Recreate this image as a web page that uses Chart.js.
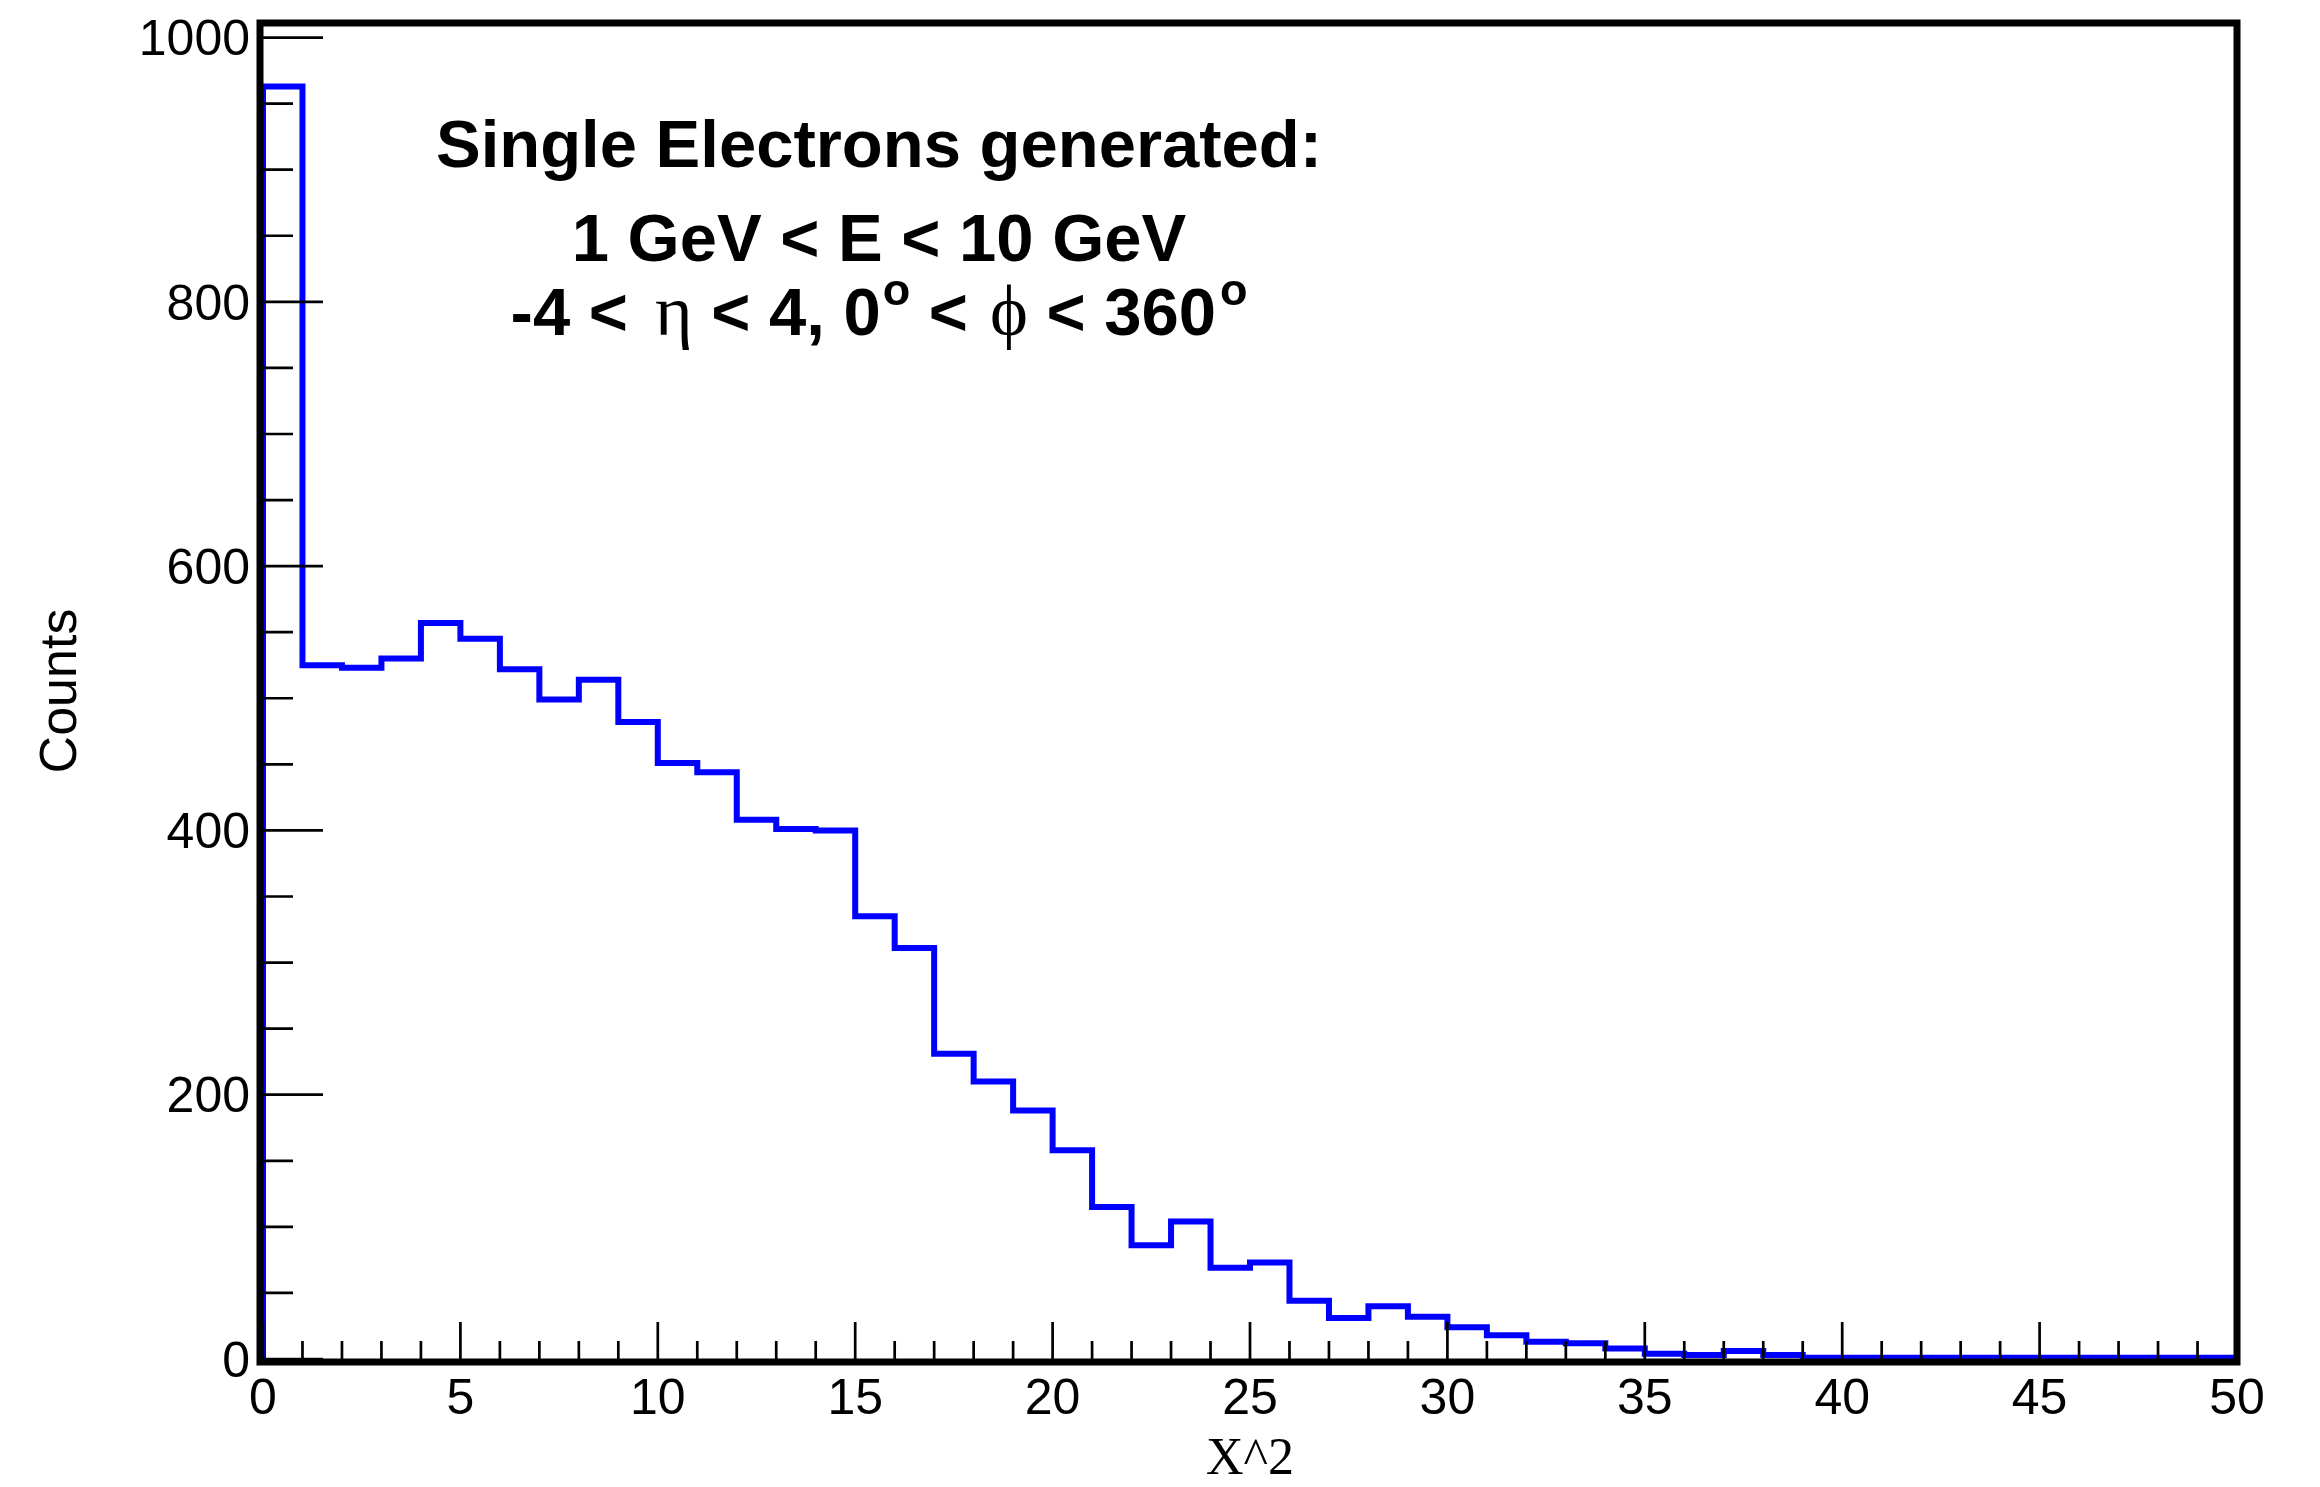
<!DOCTYPE html>
<html>
<head>
<meta charset="utf-8">
<script src="https://cdn.jsdelivr.net/npm/chart.js@4.4.1/dist/chart.umd.min.js"></script>
<style>
  html, body { margin: 0; padding: 0; background: #fff; }
  #wrap { width: 2320px; height: 1487px; }
</style>
</head>
<body>
<div id="wrap"><canvas id="chart" width="2320" height="1487"></canvas></div>
<script>
// histogram: 50 bins of width 1 from 0 to 50
const X_MIN = 0;
const X_MAX = 50;
const BIN_WIDTH = 1;
const counts = [
  963, 525, 523, 530, 557, 545, 522, 499, 514, 482,
  451, 444, 408, 401, 400, 335, 311, 231, 210, 188,
  158, 115, 86, 104, 69, 73, 44, 31, 40, 32,
  24, 18, 13, 12, 8, 4, 3, 6, 3, 1,
  1, 1, 1, 1, 1, 1, 1, 1, 1, 1
];

// axes
const Y_MAX = 1011;
const xTickValues = [0, 5, 10, 15, 20, 25, 30, 35, 40, 45, 50];
const yTickValues = [0, 200, 400, 600, 800, 1000];
const X_MINOR_STEP = 1;
const Y_MINOR_STEP = 50;
const xTitle = 'X^2';
const yTitle = 'Counts';

const titleLines = ['Single Electrons generated:', '1 GeV < E < 10 GeV'];

const SANS = '"Liberation Sans", Arial, Helvetica, sans-serif';
const SERIF = '"Liberation Serif", "DejaVu Serif", "Times New Roman", serif';

// step outline: start on the baseline, one point per bin low edge, close at the upper edge
const histPoints = [{ x: X_MIN, y: 0 }]
  .concat(counts.map((c, i) => ({ x: X_MIN + i * BIN_WIDTH, y: c })))
  .concat([{ x: X_MAX, y: counts[counts.length - 1] }]);

// frame + inward ticks, ROOT style
const rootFrame = {
  id: 'rootFrame',
  afterDatasetsDraw(chart) {
    const { ctx, chartArea: a, scales: { x, y } } = chart;
    ctx.save();
    ctx.strokeStyle = '#000';
    ctx.lineWidth = 2.7;
    ctx.beginPath();
    for (let v = 0; v <= yTickValues[yTickValues.length - 1]; v += Y_MINOR_STEP) {
      const py = y.getPixelForValue(v);
      const len = yTickValues.includes(v) ? 60 : 30;
      ctx.moveTo(a.left, py);
      ctx.lineTo(a.left + len, py);
    }
    for (let v = X_MIN; v <= X_MAX; v += X_MINOR_STEP) {
      const px = x.getPixelForValue(v);
      const len = xTickValues.includes(v) ? 37 : 18;
      ctx.moveTo(px, a.bottom);
      ctx.lineTo(px, a.bottom - len);
    }
    ctx.stroke();

    ctx.lineWidth = 7;
    ctx.strokeRect(a.left - 3, a.top, a.right - a.left + 3, a.bottom - a.top + 3);
    ctx.restore();
  }
};

// text block in the upper part of the pad
const rootLabel = {
  id: 'rootLabel',
  afterDraw(chart) {
    const { ctx } = chart;
    const cx = 879;
    ctx.save();
    ctx.fillStyle = '#000';
    ctx.textBaseline = 'alphabetic';
    ctx.textAlign = 'center';
    ctx.font = 'bold 67px ' + SANS;
    ctx.fillText(titleLines[0], cx, 167);
    ctx.fillText(titleLines[1], cx, 261);

    const B = 'bold 67px ' + SANS;
    const G = '72px ' + SERIF;
    const S = 'bold 45px ' + SANS;
    const segs = [
      { t: '-4 <', f: B },
      { gap: 27 },
      { t: 'η', f: G },
      { t: ' < 4, 0', f: B },
      { gap: 2 },
      { t: 'o', f: S, up: 30 },
      { t: ' <', f: B },
      { gap: 22 },
      { t: 'ϕ', f: G },
      { t: ' < 360', f: B },
      { gap: 4 },
      { t: 'o', f: S, up: 30 }
    ];
    ctx.textAlign = 'left';
    let total = 0;
    segs.forEach(s => {
      if (s.gap) { total += s.gap; return; }
      ctx.font = s.f;
      s.w = ctx.measureText(s.t).width;
      total += s.w;
    });
    let px = cx - total / 2;
    const base = 335;
    segs.forEach(s => {
      if (s.gap) { px += s.gap; return; }
      ctx.font = s.f;
      ctx.fillText(s.t, px, base - (s.up || 0));
      px += s.w;
    });
    ctx.restore();
  }
};

new Chart(document.getElementById('chart'), {
  type: 'line',
  data: {
    datasets: [{
      data: histPoints,
      borderColor: '#0000ff',
      borderWidth: 6,
      stepped: true,
      pointRadius: 0,
      fill: false,
      borderJoinStyle: 'miter',
      borderCapStyle: 'butt',
      clip: false
    }]
  },
  options: {
    responsive: false,
    devicePixelRatio: 1,
    animation: false,
    events: [],
    layout: { padding: { top: 23, right: 83, bottom: 0, left: 0 } },
    plugins: {
      legend: { display: false },
      tooltip: { enabled: false },
      title: { display: false }
    },
    scales: {
      x: {
        type: 'linear',
        min: X_MIN,
        max: X_MAX,
        grid: { display: false, drawTicks: false },
        border: { display: false },
        afterFit: s => { s.height = 128; s.paddingLeft = 0; s.paddingRight = 0; },
        afterBuildTicks: s => { s.ticks = xTickValues.map(v => ({ value: v })); },
        ticks: {
          color: '#000',
          font: { family: SANS, size: 50 },
          padding: 11,
          maxRotation: 0,
          autoSkip: false,
          callback: v => String(v)
        },
        title: {
          display: true,
          text: xTitle,
          color: '#000',
          font: { family: SERIF, size: 52, lineHeight: 1.04 },
          padding: { top: 0, bottom: 0 }
        }
      },
      y: {
        type: 'linear',
        min: 0,
        max: Y_MAX,
        grid: { display: false, drawTicks: false },
        border: { display: false },
        afterFit: s => { s.width = 263; s.paddingTop = 0; s.paddingBottom = 0; },
        afterBuildTicks: s => { s.ticks = yTickValues.map(v => ({ value: v })); },
        ticks: {
          color: '#000',
          font: { family: SANS, size: 50 },
          padding: 13,
          labelOffset: 4,
          callback: v => String(v)
        },
        title: {
          display: true,
          text: yTitle,
          color: '#000',
          font: { family: SANS, size: 52 },
          padding: { top: 30, bottom: 0 }
        }
      }
    }
  },
  plugins: [rootFrame, rootLabel]
});
</script>
</body>
</html>
